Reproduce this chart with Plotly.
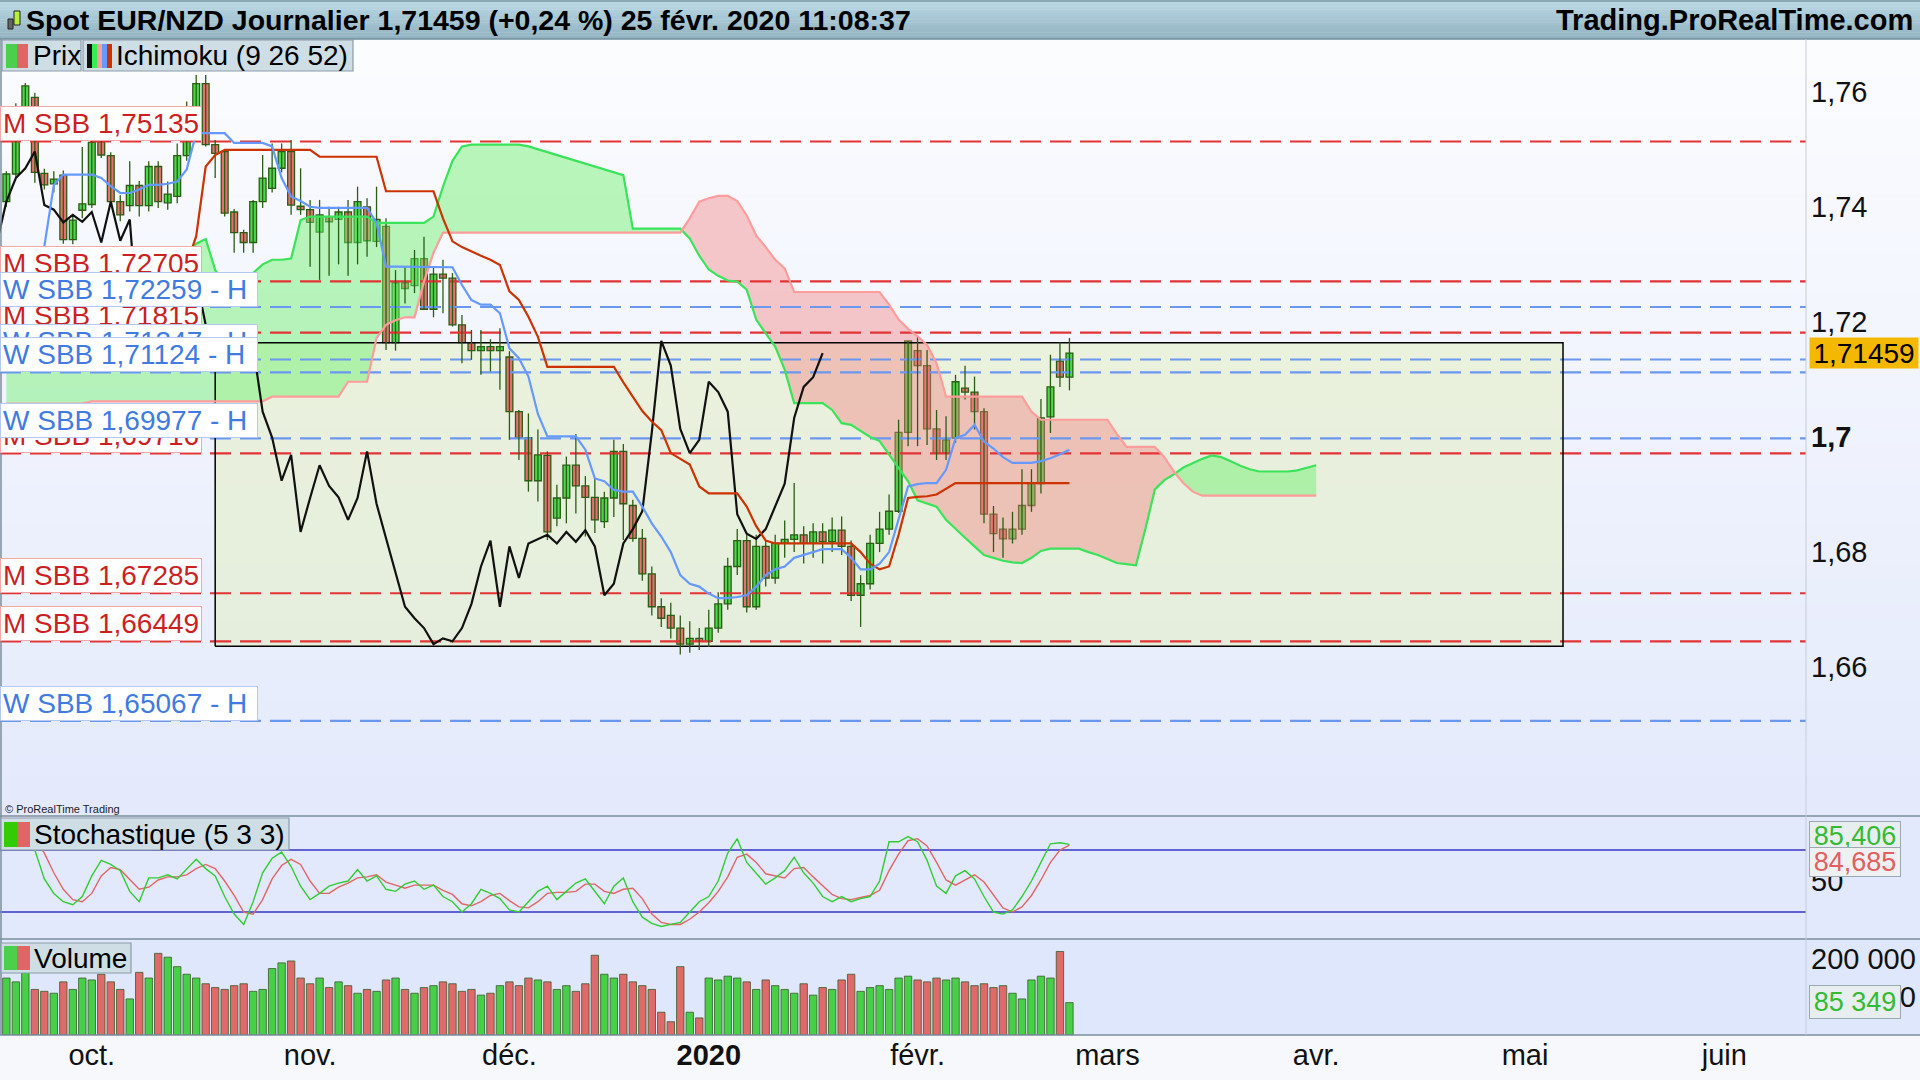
import numpy as np
import pandas as pd
import plotly.graph_objects as go

# ---------------------------------------------------------------- data
calendar = pd.bdate_range("2019-09-18", "2020-06-30")
calendar = calendar[~calendar.isin(pd.to_datetime(["2019-12-25", "2020-01-01"]))]

first_bar = "2019-09-18"
last_bar = "2020-02-25"
cloud_end = "2020-04-01"
zone_start = "2019-10-18"
zone_end = "2020-05-07"
zone_low = 1.66362
zone_high = 1.71638

open_ = [1.7409, 1.7457, 1.7572, 1.7590, 1.7458, 1.7440, 1.7455, 1.7343, 1.7394, 1.7404,
         1.7513, 1.7489, 1.7409, 1.7402, 1.7437, 1.7402, 1.7470, 1.7407, 1.7418, 1.7489,
         1.7540, 1.7614, 1.7508, 1.7496, 1.7391, 1.7355, 1.7338, 1.7409, 1.7432, 1.7467,
         1.7496, 1.7401, 1.7395, 1.7356, 1.7383, 1.7378, 1.7391, 1.7338, 1.7400, 1.7340,
         1.7366, 1.7164, 1.7268, 1.7263, 1.7310, 1.7222, 1.7283, 1.7276, 1.7195, 1.7164,
         1.7150, 1.7157, 1.7150, 1.7139, 1.7044, 1.6999, 1.6924, 1.6968, 1.6859, 1.6894,
         1.6951, 1.6915, 1.6895, 1.6853, 1.6894, 1.6975, 1.6881, 1.6824, 1.6762, 1.6705,
         1.6690, 1.6668, 1.6640, 1.6650, 1.6645, 1.6668, 1.6710, 1.6775, 1.6820, 1.6705,
         1.6810, 1.6755, 1.6815, 1.6822, 1.6830, 1.6815, 1.6835, 1.6818, 1.6838, 1.6810,
         1.6725, 1.6745, 1.6815, 1.6840, 1.6871, 1.7008, 1.7150, 1.7124, 1.7014, 1.6972,
         1.6998, 1.7085, 1.7078, 1.7044, 1.6866, 1.6840, 1.6823, 1.6840, 1.6881, 1.6919,
         1.7035, 1.7132, 1.7104]
high = [1.7462, 1.7580, 1.7615, 1.7598, 1.7466, 1.7462, 1.7463, 1.7386, 1.7504, 1.7520,
        1.7530, 1.7495, 1.7420, 1.7479, 1.7445, 1.7479, 1.7479, 1.7444, 1.7510, 1.7583,
        1.7629, 1.7629, 1.7516, 1.7500, 1.7396, 1.7360, 1.7412, 1.7490, 1.7510, 1.7510,
        1.7516, 1.7467, 1.7412, 1.7412, 1.7400, 1.7400, 1.7412, 1.7435, 1.7415, 1.7435,
        1.7380, 1.7290, 1.7296, 1.7325, 1.7348, 1.7294, 1.7308, 1.7285, 1.7212, 1.7186,
        1.7186, 1.7170, 1.7189, 1.7149, 1.7047, 1.7041, 1.7013, 1.6975, 1.6917, 1.6966,
        1.7005, 1.6932, 1.6927, 1.6905, 1.6995, 1.6988, 1.6891, 1.6840, 1.6775, 1.6720,
        1.6712, 1.6690, 1.6680, 1.6668, 1.6700, 1.6730, 1.6790, 1.6840, 1.6830, 1.6830,
        1.6820, 1.6830, 1.6855, 1.6920, 1.6845, 1.6850, 1.6850, 1.6860, 1.6862, 1.6820,
        1.6760, 1.6830, 1.6870, 1.6900, 1.7030, 1.7167, 1.7176, 1.7151, 1.7047, 1.7036,
        1.7108, 1.7124, 1.7105, 1.7050, 1.6880, 1.6860, 1.6870, 1.6944, 1.6944, 1.7066,
        1.7143, 1.7164, 1.7172]
low = [1.7400, 1.7450, 1.7565, 1.7442, 1.7430, 1.7425, 1.7336, 1.7335, 1.7380, 1.7398,
       1.7485, 1.7400, 1.7375, 1.7392, 1.7383, 1.7392, 1.7398, 1.7395, 1.7406, 1.7480,
       1.7530, 1.7505, 1.7450, 1.7383, 1.7320, 1.7320, 1.7320, 1.7398, 1.7425, 1.7460,
       1.7386, 1.7386, 1.7296, 1.7273, 1.7280, 1.7300, 1.7280, 1.7300, 1.7313, 1.7330,
       1.7151, 1.7150, 1.7232, 1.7250, 1.7221, 1.7208, 1.7215, 1.7192, 1.7128, 1.7134,
       1.7108, 1.7114, 1.7082, 1.6995, 1.6960, 1.6905, 1.6888, 1.6821, 1.6845, 1.6850,
       1.6867, 1.6827, 1.6833, 1.6842, 1.6861, 1.6821, 1.6818, 1.6750, 1.6690, 1.6670,
       1.6650, 1.6622, 1.6625, 1.6630, 1.6635, 1.6660, 1.6700, 1.6760, 1.6695, 1.6700,
       1.6740, 1.6745, 1.6790, 1.6800, 1.6780, 1.6790, 1.6780, 1.6800, 1.6795, 1.6715,
       1.6670, 1.6735, 1.6800, 1.6830, 1.6868, 1.6984, 1.6984, 1.6986, 1.6960, 1.6960,
       1.6990, 1.7065, 1.7013, 1.6850, 1.6800, 1.6790, 1.6815, 1.6830, 1.6870, 1.6902,
       1.7007, 1.7087, 1.7081]
close = [1.7457, 1.7570, 1.7610, 1.7460, 1.7438, 1.7448, 1.7343, 1.7377, 1.7405, 1.7512,
         1.7490, 1.7409, 1.7386, 1.7437, 1.7402, 1.7470, 1.7409, 1.7422, 1.7489, 1.7540,
         1.7614, 1.7508, 1.7493, 1.7389, 1.7355, 1.7338, 1.7409, 1.7450, 1.7467, 1.7496,
         1.7403, 1.7395, 1.7373, 1.7386, 1.7374, 1.7391, 1.7338, 1.7409, 1.7341, 1.7378,
         1.7164, 1.7268, 1.7258, 1.7310, 1.7222, 1.7283, 1.7276, 1.7195, 1.7164, 1.7150,
         1.7157, 1.7150, 1.7157, 1.7044, 1.6999, 1.6924, 1.6969, 1.6835, 1.6894, 1.6951,
         1.6915, 1.6895, 1.6856, 1.6894, 1.6975, 1.6884, 1.6824, 1.6762, 1.6705, 1.6685,
         1.6668, 1.6640, 1.6650, 1.6645, 1.6668, 1.6710, 1.6775, 1.6820, 1.6705, 1.6810,
         1.6755, 1.6815, 1.6822, 1.6830, 1.6815, 1.6835, 1.6818, 1.6838, 1.6810, 1.6725,
         1.6745, 1.6815, 1.6840, 1.6871, 1.7008, 1.7167, 1.7124, 1.7014, 1.6972, 1.6995,
         1.7096, 1.7078, 1.7044, 1.6866, 1.6832, 1.6823, 1.6840, 1.6881, 1.6919, 1.7033,
         1.7087, 1.7104, 1.71459]

tenkan = [1.7310, 1.7310, 1.7315, 1.7320, 1.7331, 1.7438, 1.7456, 1.7456, 1.7456, 1.7456,
          1.7450, 1.7436, 1.7424, 1.7424, 1.7430, 1.7438, 1.7438, 1.7440, 1.7444, 1.7465,
          1.7528, 1.7528, 1.7528, 1.7528, 1.7511, 1.7511, 1.7511, 1.7511, 1.7505, 1.7450,
          1.7418, 1.7410, 1.7400, 1.7398, 1.7398, 1.7398, 1.7398, 1.7398, 1.7398, 1.7372,
          1.7296, 1.7296, 1.7296, 1.7296, 1.7296, 1.7296, 1.7296, 1.7295, 1.7264, 1.7238,
          1.7230, 1.7230, 1.7215, 1.7154, 1.7137, 1.7105, 1.7040, 1.7001, 1.7001, 1.7001,
          1.7001, 1.6978, 1.6928, 1.6923, 1.6908, 1.6905, 1.6905, 1.6879, 1.6850, 1.6827,
          1.6800, 1.6760, 1.6745, 1.6740, 1.6728, 1.6720, 1.6720, 1.6722, 1.6725, 1.6740,
          1.6760, 1.6770, 1.6775, 1.6790, 1.6795, 1.6800, 1.6805, 1.6805, 1.6805, 1.6790,
          1.6770, 1.6770, 1.6780, 1.6800, 1.6856, 1.6914, 1.6918, 1.6920, 1.6920, 1.6943,
          1.6998, 1.7004, 1.7021, 1.6992, 1.6980, 1.6965, 1.6955, 1.6955, 1.6955, 1.6958,
          1.6963, 1.6970, 1.6978]
kijun = [1.7300, 1.7300, 1.7300, 1.7300, 1.7300, 1.7300, 1.7300, 1.7300, 1.7300, 1.7300,
         1.7300, 1.7300, 1.7300, 1.7300, 1.7300, 1.7300, 1.7300, 1.7300, 1.7300, 1.7300,
         1.7349, 1.7470, 1.7490, 1.7499, 1.7499, 1.7499, 1.7499, 1.7499, 1.7499, 1.7499,
         1.7499, 1.7499, 1.7499, 1.7487, 1.7487, 1.7487, 1.7487, 1.7487, 1.7487, 1.7487,
         1.7427, 1.7427, 1.7427, 1.7427, 1.7427, 1.7427, 1.7380, 1.7340, 1.7330, 1.7322,
         1.7315, 1.7308, 1.7299, 1.7253, 1.7238, 1.7209, 1.7174, 1.7122, 1.7122, 1.7122,
         1.7122, 1.7122, 1.7122, 1.7122, 1.7122, 1.7095, 1.7070, 1.7045, 1.7027, 1.7012,
         1.6972, 1.6962, 1.6952, 1.6914, 1.6902, 1.6902, 1.6902, 1.6902, 1.6879, 1.6845,
         1.6820, 1.6815, 1.6815, 1.6815, 1.6815, 1.6815, 1.6815, 1.6815, 1.6815, 1.6815,
         1.6800, 1.6780, 1.6770, 1.6775, 1.6830, 1.6894, 1.6896, 1.6897, 1.6900, 1.6910,
         1.6920, 1.6920, 1.6920, 1.6920, 1.6920, 1.6920, 1.6920, 1.6920, 1.6920, 1.6920,
         1.6920, 1.6920, 1.6920]
senkou_a = [1.7300, 1.7300, 1.7300, 1.7300, 1.7300, 1.7300, 1.7300, 1.7300, 1.7300, 1.7300,
            1.7300, 1.7300, 1.7300, 1.7300, 1.7300, 1.7300, 1.7300, 1.7300, 1.7300, 1.7320,
            1.7336, 1.7344, 1.7290, 1.7270, 1.7270, 1.7275, 1.7285, 1.7300, 1.7308, 1.7308,
            1.7310, 1.7377, 1.7383, 1.7383, 1.7383, 1.7383, 1.7383, 1.7383, 1.7383, 1.7372,
            1.7372, 1.7372, 1.7372, 1.7372, 1.7372, 1.7383, 1.7435, 1.7480, 1.7505, 1.7508,
            1.7508, 1.7508, 1.7508, 1.7508, 1.7508, 1.7505, 1.7500, 1.7495, 1.7490, 1.7485,
            1.7480, 1.7475, 1.7470, 1.7465, 1.7460, 1.7455, 1.7362, 1.7362, 1.7362, 1.7362,
            1.7362, 1.7362, 1.7345, 1.7315, 1.7291, 1.7280, 1.7272, 1.7270, 1.7256, 1.7204,
            1.7180, 1.7157, 1.7117, 1.7059, 1.7059, 1.7059, 1.7059, 1.7047, 1.7024, 1.7021,
            1.7010, 1.7000, 1.6993, 1.6970, 1.6945, 1.6923, 1.6890, 1.6885, 1.6879, 1.6856,
            1.6840, 1.6825, 1.6810, 1.6795, 1.6790, 1.6785, 1.6782, 1.6781, 1.6790, 1.6802,
            1.6806, 1.6806, 1.6806, 1.6806, 1.6800, 1.6795, 1.6788, 1.6781, 1.6779, 1.6777,
            1.6840, 1.6909, 1.6925, 1.6935, 1.6947, 1.6955, 1.6962, 1.6968, 1.6965, 1.6958,
            1.6950, 1.6944, 1.6940, 1.6940, 1.6940, 1.6940, 1.6942, 1.6947, 1.6951]
senkou_b = [1.7058, 1.7058, 1.7058, 1.7058, 1.7058, 1.7058, 1.7058, 1.7058, 1.7058, 1.7062,
            1.7062, 1.7062, 1.7062, 1.7062, 1.7062, 1.7062, 1.7062, 1.7062, 1.7062, 1.7062,
            1.7062, 1.7062, 1.7062, 1.7062, 1.7062, 1.7062, 1.7062, 1.7062, 1.7070, 1.7070,
            1.7070, 1.7070, 1.7070, 1.7070, 1.7070, 1.7070, 1.7096, 1.7096, 1.7096, 1.7172,
            1.7195, 1.7203, 1.7208, 1.7208, 1.7270, 1.7320, 1.7355, 1.7355, 1.7355, 1.7355,
            1.7355, 1.7355, 1.7355, 1.7355, 1.7355, 1.7355, 1.7355, 1.7355, 1.7355, 1.7355,
            1.7355, 1.7355, 1.7355, 1.7355, 1.7355, 1.7355, 1.7355, 1.7355, 1.7355, 1.7355,
            1.7355, 1.7355, 1.7380, 1.7409, 1.7415, 1.7419, 1.7419, 1.7410, 1.7385, 1.7350,
            1.7330, 1.7308, 1.7293, 1.7252, 1.7252, 1.7252, 1.7252, 1.7252, 1.7252, 1.7252,
            1.7252, 1.7252, 1.7252, 1.7230, 1.7204, 1.7188, 1.7175, 1.7160, 1.7128, 1.7070,
            1.7070, 1.7070, 1.7070, 1.7070, 1.7070, 1.7070, 1.7070, 1.7070, 1.7044, 1.7030,
            1.7030, 1.7030, 1.7030, 1.7030, 1.7030, 1.7030, 1.7030, 1.7005, 1.6983, 1.6983,
            1.6983, 1.6983, 1.6965, 1.6940, 1.6920, 1.6905, 1.6898, 1.6898, 1.6898, 1.6898,
            1.6898, 1.6898, 1.6898, 1.6898, 1.6898, 1.6898, 1.6898, 1.6898, 1.6898]

stoch_k = [96, 99, 93, 80, 52, 38, 30, 27, 35, 55,
           70, 66, 60, 40, 30, 53, 53, 56, 52, 62,
           71, 62, 55, 35, 18, 8, 30, 58, 72, 78,
           64, 45, 32, 38, 45, 48, 50, 61, 50, 55,
           42, 40, 47, 50, 42, 46, 35, 30, 20, 28,
           42, 38, 33, 22, 20, 30, 40, 45, 32, 40,
           48, 52, 40, 28, 45, 53, 30, 15, 9, 6,
           8, 10, 20, 30, 35, 50, 77, 91, 68, 58,
           47, 53, 60, 73, 58, 48, 35, 30, 35, 30,
           33, 35, 50, 88, 88, 93, 88, 70, 45, 38,
           55, 60, 52, 35, 20, 18, 22, 35, 50, 68,
           86, 87, 85.406]
stoch_d = [90, 94, 96, 91, 77, 58, 42, 32, 30, 38,
           55, 63, 61, 52, 42, 44, 51, 54, 54, 56,
           62, 66, 62, 50, 36, 20, 18, 32, 52, 65,
           71, 66, 50, 38, 38, 44, 48, 53, 54, 56,
           49, 46, 43, 46, 46, 46, 41, 37, 28, 26,
           30, 36, 38, 31, 25, 24, 30, 38, 39, 39,
           40, 47, 47, 40, 38, 42, 43, 33, 18, 10,
           8, 8, 13, 20, 29, 40, 54, 73, 76, 68,
           57, 55, 53, 62, 63, 54, 45, 37, 33, 32,
           34, 36, 41, 60, 76, 89, 91, 84, 68, 51,
           46, 51, 56, 49, 36, 24, 20, 25, 36, 51,
           68, 80, 84.685]
volume = [150000, 140000, 180000, 120000, 115000, 110000, 140000, 120000, 150000, 145000,
          160000, 140000, 120000, 95000, 165000, 150000, 215000, 205000, 180000, 160000,
          150000, 135000, 125000, 120000, 130000, 135000, 115000, 120000, 175000, 190000,
          195000, 150000, 135000, 150000, 125000, 140000, 130000, 110000, 120000, 115000,
          145000, 150000, 120000, 110000, 125000, 130000, 140000, 135000, 115000, 120000,
          105000, 110000, 130000, 140000, 130000, 150000, 145000, 140000, 120000, 130000,
          115000, 135000, 210000, 160000, 150000, 160000, 140000, 130000, 120000, 60000,
          35000, 180000, 60000, 45000, 150000, 145000, 155000, 150000, 140000, 120000,
          145000, 130000, 120000, 110000, 135000, 105000, 125000, 120000, 145000, 160000,
          115000, 125000, 130000, 120000, 150000, 155000, 145000, 140000, 150000, 145000,
          150000, 140000, 130000, 135000, 125000, 130000, 110000, 95000, 145000, 155000,
          150000, 220000, 85349]

monthly_sbb = [1.75135, 1.72705, 1.71815, 1.69716, 1.67285, 1.66449]
weekly_sbb = [1.72259, 1.71347, 1.71124, 1.69977, 1.65067]

month_starts = ["2019-10", "2019-11", "2019-12", "2020-01", "2020-02", "2020-03", "2020-04", "2020-05", "2020-06"]
month_labels = ["oct.", "nov.", "déc.", "<b>2020</b>", "févr.", "mars", "avr.", "mai", "juin"]
price_ticks = [1.66, 1.68, 1.70, 1.72, 1.74, 1.76]
price_tick_text = ["1,66", "1,68", "<b>1,7</b>", "1,72", "1,74", "1,76"]
last_price_text = "1,71459"
stoch_k_text = "85,406"
stoch_d_text = "84,685"
volume_text = "85 349"

# ---------------------------------------------------------------- geometry helpers
PLOT_W, PLOT_H = 1806, 1035
FONT = "Liberation Sans, Arial, sans-serif"


def px(x):
    return x / PLOT_W


def py(y):
    return 1 - y / PLOT_H


ORIGIN = calendar.get_loc(pd.Timestamp("2019-10-01"))


def pos(d):
    return calendar.get_loc(pd.Timestamp(d)) - ORIGIN


bar_x = np.arange(pos(first_bar), pos(last_bar) + 1)
cloud_x = np.arange(pos(first_bar), pos(cloud_end) + 1)
n = len(bar_x)
assert all(len(a) == n for a in [open_, high, low, close, tenkan, kijun, stoch_k, stoch_d, volume])
assert len(senkou_a) == len(cloud_x) and len(senkou_b) == len(cloud_x)

tick_pos = []
for m in month_starts:
    p = pd.Period(m, freq="M")
    first = calendar[(calendar >= p.start_time) & (calendar <= p.end_time)][0]
    tick_pos.append(pos(first))

X_RANGE = [-9.67, 180.6]
Y_RANGE = [1.63414, 1.76916]
S_RANGE = [-6.1, 112.9]
V_RANGE = [0, 252900]

DOM_V = [0, 1 - 939 / PLOT_H]
DOM_S = [1 - 939 / PLOT_H, 1 - 816 / PLOT_H]
DOM_P = [1 - 816 / PLOT_H, 1 - 39 / PLOT_H]

fig = go.Figure()


# ---------------------------------------------------------------- cloud fill
def with_crossings(xs, a, b):
    X, A, B = [xs[0]], [a[0]], [b[0]]
    for k in range(1, len(xs)):
        d0, d1 = a[k - 1] - b[k - 1], a[k] - b[k]
        if d0 * d1 < 0:
            t = d0 / (d0 - d1)
            xc = xs[k - 1] + t * (xs[k] - xs[k - 1])
            yc = a[k - 1] + t * (a[k] - a[k - 1])
            X.append(xc); A.append(yc); B.append(yc)
        X.append(xs[k]); A.append(a[k]); B.append(b[k])
    return np.array(X, float), np.array(A), np.array(B)


cx, ca, cb = with_crossings(list(cloud_x), senkou_a, senkou_b)
top = np.maximum(ca, cb)
fig.add_trace(go.Scatter(x=cx, y=cb, mode="lines", line=dict(width=0), hoverinfo="skip", showlegend=False))
fig.add_trace(go.Scatter(x=cx, y=top, mode="lines", line=dict(width=0), fill="tonexty",
                         fillcolor="rgba(110,240,110,0.47)", hoverinfo="skip", showlegend=False))
fig.add_trace(go.Scatter(x=cx, y=ca, mode="lines", line=dict(width=0), hoverinfo="skip", showlegend=False))
fig.add_trace(go.Scatter(x=cx, y=top, mode="lines", line=dict(width=0), fill="tonexty",
                         fillcolor="rgba(242,128,128,0.42)", hoverinfo="skip", showlegend=False))

# ---------------------------------------------------------------- support / resistance lines
for lvl in monthly_sbb:
    fig.add_trace(go.Scatter(x=X_RANGE, y=[lvl, lvl], mode="lines",
                             line=dict(color="#e23434", width=2.2, dash="21px,9px"),
                             hoverinfo="skip", showlegend=False))
for lvl in weekly_sbb:
    fig.add_trace(go.Scatter(x=X_RANGE, y=[lvl, lvl], mode="lines",
                             line=dict(color="#6a98f0", width=2.2, dash="21px,9px"),
                             hoverinfo="skip", showlegend=False))

# zone border
zx0, zx1 = pos(zone_start), pos(zone_end)
fig.add_trace(go.Scatter(x=[zx0, zx1, zx1, zx0, zx0], y=[zone_low, zone_low, zone_high, zone_high, zone_low],
                         mode="lines", line=dict(color="black", width=1.5), hoverinfo="skip", showlegend=False))

# ---------------------------------------------------------------- candles (wicks + bodies)
wx, wy = [], []
for xi, lo, hi in zip(bar_x, low, high):
    wx += [xi, xi, None]
    wy += [lo, hi, None]
fig.add_trace(go.Scatter(x=wx, y=wy, mode="lines", line=dict(color="#2b5d14", width=1.3),
                         hoverinfo="skip", showlegend=False))
body_base = [min(o, c) for o, c in zip(open_, close)]
body_len = [max(abs(c - o), 0.00012) for o, c in zip(open_, close)]
body_col = ["#4cd64c" if c >= o else "#e87070" for o, c in zip(open_, close)]
fig.add_trace(go.Bar(x=bar_x, y=body_len, base=body_base, width=0.72,
                     marker=dict(color=body_col, line=dict(color="#2b5d14", width=1.3)),
                     hoverinfo="skip", showlegend=False))

# ---------------------------------------------------------------- ichimoku lines
fig.add_trace(go.Scatter(x=cloud_x, y=senkou_a, mode="lines", line=dict(color="#3be35a", width=2.2),
                         hoverinfo="skip", showlegend=False))
fig.add_trace(go.Scatter(x=cloud_x, y=senkou_b, mode="lines", line=dict(color="#ff9c9c", width=2.2),
                         hoverinfo="skip", showlegend=False))
fig.add_trace(go.Scatter(x=bar_x - 26, y=close, mode="lines", line=dict(color="#111111", width=2.2),
                         hoverinfo="skip", showlegend=False))
fig.add_trace(go.Scatter(x=bar_x, y=kijun, mode="lines", line=dict(color="#cc3300", width=2.2),
                         hoverinfo="skip", showlegend=False))
fig.add_trace(go.Scatter(x=bar_x, y=tenkan, mode="lines", line=dict(color="#6699ff", width=2.2),
                         hoverinfo="skip", showlegend=False))

# ---------------------------------------------------------------- stochastic
for lvl in (80, 20):
    fig.add_trace(go.Scatter(x=X_RANGE, y=[lvl, lvl], mode="lines", line=dict(color="#3434c8", width=1.3),
                             yaxis="y2", hoverinfo="skip", showlegend=False))
fig.add_trace(go.Scatter(x=bar_x, y=stoch_d, mode="lines", line=dict(color="#e06666", width=1.4),
                         yaxis="y2", hoverinfo="skip", showlegend=False))
fig.add_trace(go.Scatter(x=bar_x, y=stoch_k, mode="lines", line=dict(color="#33cc33", width=1.4),
                         yaxis="y2", hoverinfo="skip", showlegend=False))

# ---------------------------------------------------------------- volume
vcol = ["#47cf47" if c >= o else "#e06a6a" for o, c in zip(open_, close)]
fig.add_trace(go.Bar(x=bar_x, y=volume, width=0.78,
                     marker=dict(color=vcol, line=dict(color="#3a5a2a", width=0.8)),
                     yaxis="y3", hoverinfo="skip", showlegend=False))

# ---------------------------------------------------------------- shapes
shapes = []
nb = 40
for k in range(nb):
    y0 = 39 + (816 - 39) * k / nb
    y1 = 39 + (816 - 39) * (k + 1) / nb
    t = (k + 0.5) / nb
    r = int(252 + (228 - 252) * t); g = int(253 + (234 - 253) * t); b = int(255 + (252 - 255) * t)
    shapes.append(dict(type="rect", xref="paper", yref="paper", x0=0, x1=1920 / PLOT_W,
                       y0=py(y1), y1=py(y0) + 0.0005, fillcolor=f"rgb({r},{g},{b})", line=dict(width=0),
                       layer="below"))
shapes.append(dict(type="rect", xref="paper", yref="paper", x0=0, x1=1920 / PLOT_W, y0=py(939), y1=py(816),
                   fillcolor="#e2e9fc", line=dict(width=0), layer="below"))
shapes.append(dict(type="rect", xref="paper", yref="paper", x0=0, x1=1920 / PLOT_W, y0=py(1035), y1=py(939),
                   fillcolor="#dfe7fc", line=dict(width=0), layer="below"))
shapes.append(dict(type="rect", xref="x", yref="y", x0=zx0, x1=zx1, y0=zone_low, y1=zone_high,
                   fillcolor="rgba(226,238,190,0.5)", line=dict(width=0), layer="below"))
hb = 12
for k in range(hb):
    t = (k + 0.5) / hb
    r = int(188 + (146 - 188) * t); g = int(218 + (178 - 218) * t); b = int(230 + (193 - 230) * t)
    shapes.append(dict(type="rect", xref="paper", yref="paper", x0=0, x1=1920 / PLOT_W,
                       y0=py(39 * (k + 1) / hb), y1=py(39 * k / hb) + 0.0003,
                       fillcolor=f"rgb({r},{g},{b})", line=dict(width=0), layer="above"))
shapes.append(dict(type="line", xref="paper", yref="paper", x0=0, x1=1920 / PLOT_W, y0=py(39), y1=py(39),
                   line=dict(color="#6e8c9c", width=1.5), layer="above"))
shapes.append(dict(type="line", xref="paper", yref="paper", x0=0, x1=1920 / PLOT_W, y0=py(1), y1=py(1),
                   line=dict(color="#7d97a5", width=1.5), layer="above"))
shapes.append(dict(type="rect", xref="paper", yref="paper", x0=px(8), x1=px(13), y0=py(29), y1=py(19),
                   fillcolor="#666666", line=dict(color="#222", width=1), layer="above"))
shapes.append(dict(type="rect", xref="paper", yref="paper", x0=px(14), x1=px(20), y0=py(25), y1=py(11),
                   fillcolor="#b6f23c", line=dict(color="#222", width=1), layer="above"))
for yy in (816, 939, 1035):
    shapes.append(dict(type="line", xref="paper", yref="paper", x0=0, x1=1920 / PLOT_W, y0=py(yy), y1=py(yy),
                       line=dict(color="#7a8e9c", width=1.5), layer="above"))
shapes.append(dict(type="line", xref="paper", yref="paper", x0=px(1), x1=px(1), y0=py(1035), y1=py(39),
                   line=dict(color="#7a8e9c", width=1.5), layer="above"))
shapes.append(dict(type="line", xref="paper", yref="paper", x0=1, x1=1, y0=py(1035), y1=py(39),
                   line=dict(color="#c4ccda", width=1), layer="above"))


def legend_box(x0, x1, y0, y1):
    shapes.append(dict(type="rect", xref="paper", yref="paper", x0=px(x0), x1=px(x1), y0=py(y1), y1=py(y0),
                       fillcolor="#cfdde4", line=dict(color="#8c9caa", width=1.2), layer="above"))


def icon(x0, x1, y0, y1, color):
    shapes.append(dict(type="rect", xref="paper", yref="paper", x0=px(x0), x1=px(x1), y0=py(y1), y1=py(y0),
                       fillcolor=color, line=dict(width=0), layer="above"))


legend_box(2, 81, 40, 71)
icon(6, 17, 44, 68, "#4ccf4c"); icon(17, 28, 44, 68, "#e06666")
legend_box(83, 353, 40, 71)
for k, c in enumerate(["#111111", "#33ee55", "#ff9c9c", "#6699ff", "#cc3300"]):
    icon(87 + 5 * k, 92 + 5 * k, 44, 68, c)
legend_box(1, 289, 818, 850)
icon(4, 17, 822, 847, "#33cc00"); icon(17, 30, 822, 847, "#e06666")
legend_box(1, 131, 943, 973)
icon(4, 17, 946, 970, "#4ccf4c"); icon(17, 30, 946, 970, "#e06666")

# ---------------------------------------------------------------- annotations
ann = []
ann.append(dict(xref="paper", yref="paper", x=px(24), y=py(20), xanchor="left", yanchor="middle",
                text="<b>Spot EUR/NZD Journalier 1,71459 (+0,24 %) 25 févr. 2020 11:08:37</b>",
                showarrow=False, font=dict(family=FONT, size=28.5, color="black")))
ann.append(dict(xref="paper", yref="paper", x=px(1915), y=py(20), xanchor="right", yanchor="middle",
                text="<b>Trading.ProRealTime.com</b>", showarrow=False,
                font=dict(family=FONT, size=29, color="black")))
for txt, x0, yc in [("Prix", 31, 56), ("Ichimoku (9 26 52)", 114, 56), ("Stochastique (5 3 3)", 32, 834),
                    ("Volume", 32, 958)]:
    ann.append(dict(xref="paper", yref="paper", x=px(x0), y=py(yc), xanchor="left", yanchor="middle", text=txt,
                    showarrow=False, font=dict(family=FONT, size=28, color="black")))
ann.append(dict(xref="paper", yref="paper", x=px(3), y=py(809), xanchor="left", yanchor="middle",
                text="© ProRealTime Trading", showarrow=False, font=dict(family=FONT, size=11, color="#222")))

for lvl in monthly_sbb:
    ann.append(dict(xref="paper", yref="y", x=0, y=lvl, xanchor="left", yanchor="bottom",
                    text="M SBB " + f"{lvl:.5f}".replace(".", ","), showarrow=False, align="left",
                    width=196, height=29, borderpad=2, bgcolor="white", bordercolor="#f0a8a8", borderwidth=1,
                    font=dict(family=FONT, size=28, color="#cc1f1f")))
for lvl in weekly_sbb:
    ann.append(dict(xref="paper", yref="y", x=0, y=lvl, xanchor="left", yanchor="bottom",
                    text="W SBB " + f"{lvl:.5f}".replace(".", ",") + " - H", showarrow=False, align="left",
                    width=252, height=29, borderpad=2, bgcolor="white", bordercolor="#b4c8f0", borderwidth=1,
                    font=dict(family=FONT, size=28, color="#3f7be0")))

ann.append(dict(xref="paper", yref="y", x=px(1809), y=close[-1], xanchor="left", yanchor="middle",
                text=last_price_text, showarrow=False, bgcolor="#f5b800", width=106, height=28, borderpad=1,
                font=dict(family=FONT, size=28, color="black")))
ann.append(dict(xref="paper", yref="y2", x=px(1809), y=94, xanchor="left", yanchor="middle",
                text=stoch_k_text, showarrow=False, bgcolor="#e8eef0", bordercolor="#9aa8b2", borderwidth=1,
                width=88, height=26, borderpad=1, font=dict(family=FONT, size=27, color="#33bb33")))
ann.append(dict(xref="paper", yref="y2", x=px(1809), y=68.5, xanchor="left", yanchor="middle",
                text=stoch_d_text, showarrow=False, bgcolor="#eef0f2", bordercolor="#9aa8b2", borderwidth=1,
                width=88, height=26, borderpad=1, font=dict(family=FONT, size=27, color="#e06060")))
ann.append(dict(xref="paper", yref="y3", x=px(1809), y=88000, xanchor="left", yanchor="middle",
                text=volume_text, showarrow=False, bgcolor="#e8eef0", bordercolor="#9aa8b2", borderwidth=1,
                width=88, height=30, borderpad=1, font=dict(family=FONT, size=27, color="#33bb33")))

# ---------------------------------------------------------------- layout
axis_font = dict(family=FONT, size=29, color="#111111")
fig.update_layout(
    template="none",
    width=1920, height=1080,
    margin=dict(l=0, r=114, t=0, b=45, pad=0),
    paper_bgcolor="#f6f8fb",
    plot_bgcolor="rgba(0,0,0,0)",
    font=dict(family=FONT),
    showlegend=False,
    barmode="overlay",
    xaxis=dict(domain=[0, 1], anchor="y3", range=X_RANGE, tickvals=tick_pos, ticktext=month_labels,
               showgrid=False, zeroline=False, showline=False, ticks="", tickfont=axis_font,
               automargin=False, fixedrange=True),
    yaxis=dict(domain=DOM_P, anchor="x", side="right", range=Y_RANGE, tickvals=price_ticks,
               ticktext=price_tick_text, showgrid=False, zeroline=False, showline=False, ticks="",
               tickfont=axis_font, automargin=False, fixedrange=True, ticklabelstandoff=4),
    yaxis2=dict(domain=DOM_S, anchor="x", side="right", range=S_RANGE, tickvals=[50], ticktext=["50"],
                showgrid=False, zeroline=False, showline=False, ticks="", tickfont=axis_font,
                automargin=False, fixedrange=True, ticklabelstandoff=4),
    yaxis3=dict(domain=DOM_V, anchor="x", side="right", range=V_RANGE, tickvals=[100000, 200000],
                ticktext=["100 000", "200 000"], showgrid=False, zeroline=False, showline=False, ticks="",
                tickfont=axis_font, automargin=False, fixedrange=True, ticklabelstandoff=4),
    shapes=shapes,
    annotations=ann,
)

fig.write_html("out.html", config={"displayModeBar": False},
               post_script="document.body.style.margin='0px';document.body.style.overflow='hidden';")
